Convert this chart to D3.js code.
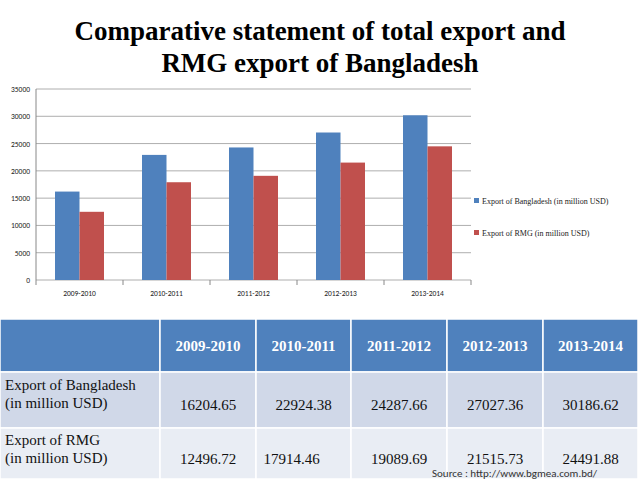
<!DOCTYPE html>
<html><head><meta charset="utf-8">
<script src="https://cdn.jsdelivr.net/npm/d3@7"></script>
<style>body{margin:0;background:#fff}svg{display:block}</style>
</head><body>
<svg id="c" width="638" height="479"></svg>
<script>
const categories=["2009-2010","2010-2011","2011-2012","2012-2013","2013-2014"];
const exportBD=[16204.65,22924.38,24287.66,27027.36,30186.62];
const exportRMG=[12496.72,17914.46,19089.69,21515.73,24491.88];
const bdLabels=["16204.65","22924.38","24287.66","27027.36","30186.62"];
const rmgLabels=["12496.72","17914.46","19089.69","21515.73","24491.88"];
const seriesNames=["Export of Bangladesh (in million USD)","Export of RMG (in million USD)"];
const colors=["#4F81BD","#C0504D"];
const yTicks=[0,5000,10000,15000,20000,25000,30000,35000];

const svg=d3.select("#c");
const serif="'Liberation Serif','Times New Roman',serif";
const sans="Carlito,'Liberation Sans',Arial,sans-serif";
svg.append("text").attr("x",320).attr("y",40).attr("text-anchor","middle")
 .attr("font-family",serif).attr("font-weight","bold").attr("font-size",27).text("Comparative statement of total export and");
svg.append("text").attr("x",320).attr("y",72).attr("text-anchor","middle")
 .attr("font-family",serif).attr("font-weight","bold").attr("font-size",27).text("RMG export of Bangladesh");

const x=d3.scaleBand().domain(categories).range([36,471]);
const y=d3.scaleLinear().domain([0,35000]).range([280,89]);
const g=svg.append("g");
g.selectAll("line.grid").data(yTicks).join("line").attr("x1",36).attr("x2",471)
 .attr("y1",d=>y(d)).attr("y2",d=>y(d)).attr("stroke","#999").attr("stroke-width",0.8);
g.append("line").attr("x1",36).attr("x2",36).attr("y1",89).attr("y2",280).attr("stroke","#888");
g.selectAll("line.tk").data(d3.range(6)).join("line").attr("x1",i=>36+i*87).attr("x2",i=>36+i*87)
 .attr("y1",280).attr("y2",285).attr("stroke","#888");
g.selectAll("text.yt").data(yTicks).join("text").attr("x",30).attr("y",d=>y(d)+3)
 .attr("text-anchor","end").attr("font-family",sans).attr("font-size",7.5).attr("fill","#222").text(d=>d);
g.selectAll("text.xt").data(categories).join("text").attr("x",d=>x(d)+x.bandwidth()/2).attr("y",296)
 .attr("text-anchor","middle").attr("font-family",sans).attr("font-size",7.5).attr("fill","#222").text(d=>d);
const bw=24.5;
[exportBD,exportRMG].forEach((vals,s)=>{
 g.selectAll("rect.s"+s).data(vals).join("rect")
  .attr("x",(d,i)=>x(categories[i])+x.bandwidth()/2-bw+s*bw).attr("width",bw)
  .attr("y",d=>y(d)).attr("height",d=>280-y(d)).attr("fill",colors[s]);
});
seriesNames.forEach((n,s)=>{
 const ly=201+s*32;
 svg.append("rect").attr("x",474).attr("y",ly-3).attr("width",5).attr("height",5).attr("fill",colors[s]);
 svg.append("text").attr("x",482).attr("y",ly+2.5).attr("font-family",serif).attr("font-size",8).attr("fill","#222").text(n);
});

const colX=[0,160,256,351,447,543,638];
const rowY=[319,372,428,479];
const t=svg.append("g");
const fills=["#4F81BD","#D0D8E8","#E9EDF4"];
for(let r=0;r<3;r++)for(let c=0;c<6;c++){
 t.append("rect").attr("x",colX[c]).attr("y",rowY[r]).attr("width",colX[c+1]-colX[c]).attr("height",rowY[r+1]-rowY[r])
  .attr("fill",fills[r]).attr("stroke","#fff").attr("stroke-width",1.5);
}
categories.forEach((c,i)=>t.append("text").attr("x",(colX[i+1]+colX[i+2])/2).attr("y",351).attr("text-anchor","middle")
 .attr("font-family",serif).attr("font-weight","bold").attr("font-size",15).attr("fill","#fff").text(c));
[["Export of Bangladesh","(in million USD)"],["Export of RMG","(in million USD)"]].forEach((l,r)=>{
 l.forEach((s,k)=>t.append("text").attr("x",5).attr("y",[390,445][r]+k*18).attr("font-family",serif).attr("font-size",15).attr("fill","#111").text(s));
});
const xoff=[0,-12,0,0,0];
bdLabels.forEach((s,i)=>t.append("text").attr("x",(colX[i+1]+colX[i+2])/2).attr("y",410).attr("text-anchor","middle")
 .attr("font-family",serif).attr("font-size",15).attr("fill","#111").text(s));
rmgLabels.forEach((s,i)=>t.append("text").attr("x",(colX[i+1]+colX[i+2])/2+xoff[i]).attr("y",464).attr("text-anchor","middle")
 .attr("font-family",serif).attr("font-size",15).attr("fill","#111").text(s));
t.append("text").attr("x",432).attr("y",477).attr("font-family",sans).attr("font-size",11).attr("fill","#333").text("Source : http://www.bgmea.com.bd/");
</script>
</body></html>
